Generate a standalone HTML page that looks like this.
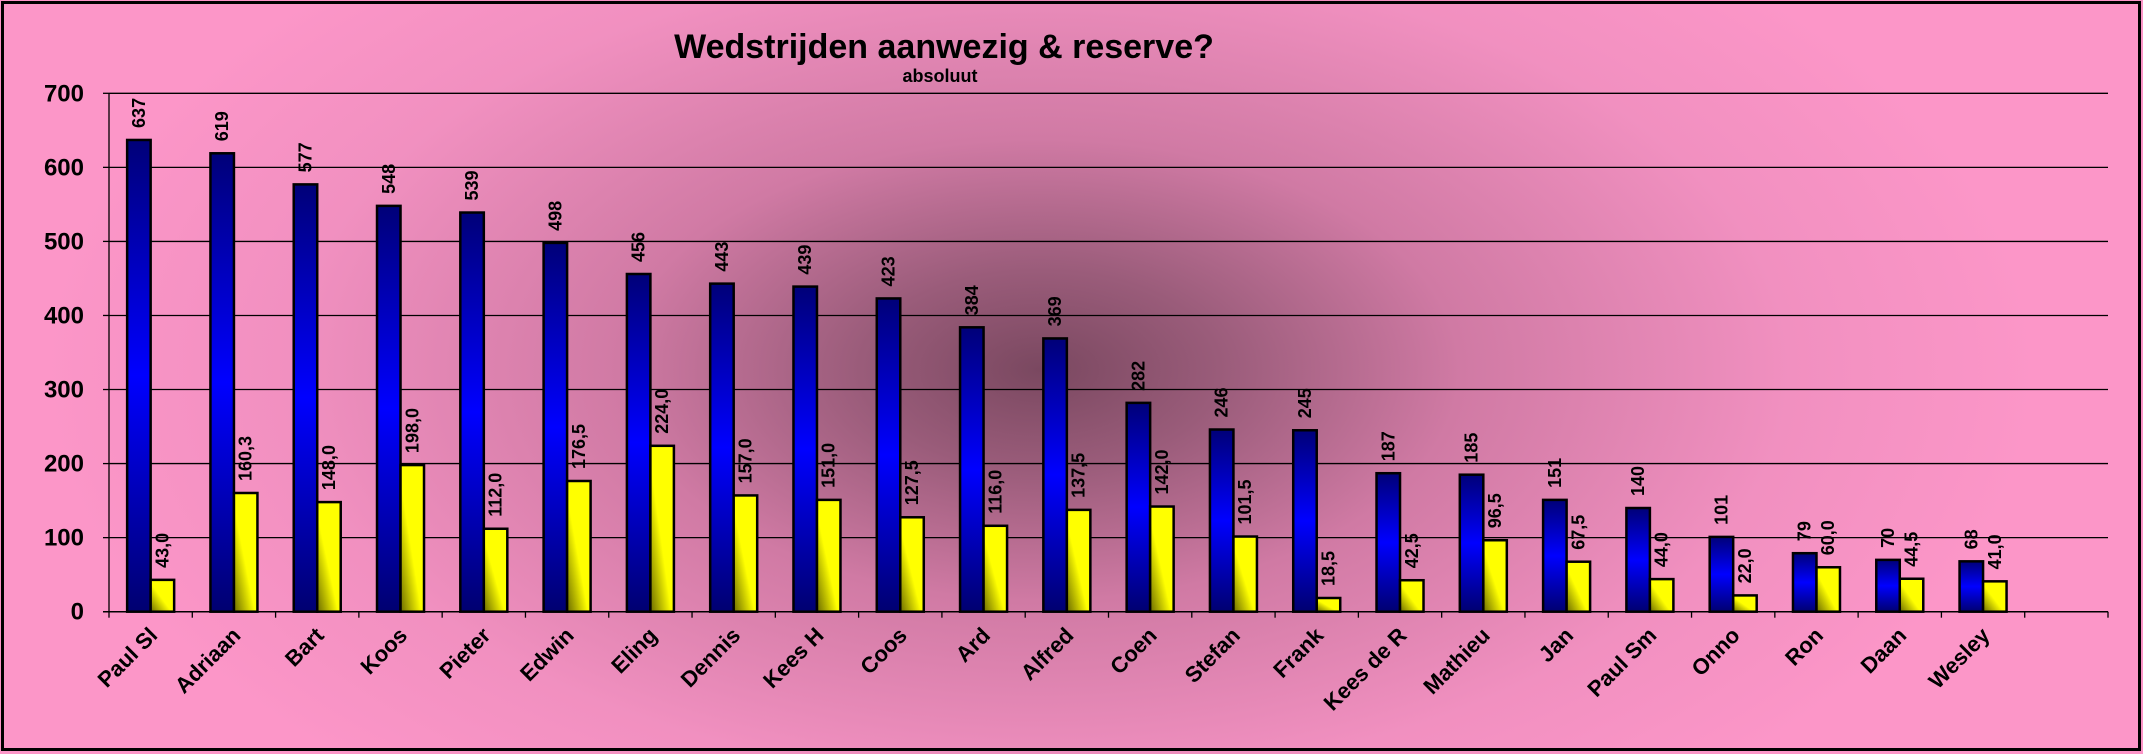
<!DOCTYPE html>
<html><head><meta charset="utf-8">
<style>
html,body{margin:0;padding:0;width:2143px;height:754px;overflow:hidden;background:#fff}
svg{display:block;font-family:"Liberation Sans",Arial,sans-serif;font-weight:bold}
</style></head>
<body>
<svg id="chart" width="2143" height="754" viewBox="0 0 2143 754" xmlns="http://www.w3.org/2000/svg">
<defs>
<radialGradient id="bgGrad" gradientUnits="userSpaceOnUse" cx="1040" cy="370" r="1000" gradientTransform="translate(1040 370) scale(1 0.55) translate(-1040 -370)">
<stop offset="0" stop-color="#7a4860"/>
<stop offset="0.18" stop-color="#9a5c7a"/>
<stop offset="0.42" stop-color="#d07aa4"/>
<stop offset="0.75" stop-color="#f190c0"/>
<stop offset="1" stop-color="#fc96c8"/>
</radialGradient>
<linearGradient id="blueGrad" x1="0" y1="0" x2="0" y2="1">
<stop offset="0" stop-color="#000078"/>
<stop offset="0.5" stop-color="#0000ff"/>
<stop offset="1" stop-color="#000070"/>
</linearGradient>
<linearGradient id="yelGrad" x1="1" y1="0" x2="0" y2="1">
<stop offset="0" stop-color="#ffff00"/>
<stop offset="0.55" stop-color="#ffff00"/>
<stop offset="1" stop-color="#6b6b00"/>
</linearGradient>
</defs>
<rect x="0" y="0" width="2143" height="754" fill="url(#bgGrad)"/>
<rect x="2.5" y="2.5" width="2137" height="747" fill="none" stroke="#000" stroke-width="3"/>
<text x="944" y="58" text-anchor="middle" font-size="34">Wedstrijden aanwezig &amp; reserve?</text>
<text x="940" y="82" text-anchor="middle" font-size="18">absoluut</text>
<g id="grid"></g>
<g id="bars"></g>
<g id="axes"></g>
</svg>
<script>
const categories = ["Paul Sl","Adriaan","Bart","Koos","Pieter","Edwin","Eling","Dennis","Kees H","Coos","Ard","Alfred","Coen","Stefan","Frank","Kees de R","Mathieu","Jan","Paul Sm","Onno","Ron","Daan","Wesley"];
const aanwezig = [637,619,577,548,539,498,456,443,439,423,384,369,282,246,245,187,185,151,140,101,79,70,68];
const reserve = [43.0,160.3,148.0,198.0,112.0,176.5,224.0,157.0,151.0,127.5,116.0,137.5,142.0,101.5,18.5,42.5,96.5,67.5,44.0,22.0,60.0,44.5,41.0];
const yTicks = [0,100,200,300,400,500,600,700];

const NS = "http://www.w3.org/2000/svg";
const X0 = 109, X1 = 2108, Y0 = 611.7, YTOP = 93.3, YMAX = 700, SLOTS = 24;
const slotW = (X1 - X0) / SLOTS;
const barW = 23.5;
function yScale(v){ return Y0 - (v / YMAX) * (Y0 - YTOP); }
function xCenter(i){ return X0 + slotW * (i + 0.5); }
function mk(tag, attrs, parent){ const e = document.createElementNS(NS, tag); for (const k in attrs) e.setAttribute(k, attrs[k]); parent.appendChild(e); return e; }
const grid = document.getElementById('grid'), bars = document.getElementById('bars'), axes = document.getElementById('axes');

yTicks.forEach(t => {
  const y = yScale(t);
  if (t > 0) {
    const l = mk('line', {x1: X0, x2: X1, y1: y, y2: y, stroke: '#000', 'stroke-width': 1.3}, grid);
    
    
  }
  const tk = mk('line', {x1: X0 - 6, x2: X0, y1: y, y2: y, stroke: '#000', 'stroke-width': 1.3}, axes);
  
  
  const tx = mk('text', {x: 84, y: y + 8, 'text-anchor': 'end', 'font-size': 24}, axes);
  tx.textContent = t;
  
  
});
const ya = mk('line', {x1: X0, x2: X0, y1: YTOP, y2: Y0, stroke: '#000', 'stroke-width': 1.3}, axes);


const xa = mk('line', {x1: X0 - 6, x2: X1, y1: Y0, y2: Y0, stroke: '#000', 'stroke-width': 1.5}, axes);


for (let i = 0; i <= SLOTS; i++) {
  const x = X0 + i * slotW;
  const t = mk('line', {x1: x, x2: x, y1: Y0, y2: Y0 + 6, stroke: '#000', 'stroke-width': 1.3}, axes);
  
  
}

categories.forEach((c, i) => {
  const cx = xCenter(i);
  const yb = yScale(aanwezig[i]);
  const b = mk('rect', {x: cx - barW, y: yb, width: barW, height: Y0 - yb, fill: 'url(#blueGrad)', stroke: '#000', 'stroke-width': 2.5}, bars);
  
  
  const yy = yScale(reserve[i]);
  const r = mk('rect', {x: cx, y: yy, width: barW, height: Y0 - yy, fill: 'url(#yelGrad)', stroke: '#000', 'stroke-width': 2.5}, bars);
  
  

  const lb = mk('text', {x: 0, y: 0, 'font-size': 18, transform: 'translate(' + (cx - barW/2 + 6) + ',' + (yb - 12) + ') rotate(-90)'}, bars);
  lb.textContent = aanwezig[i];
  
  
  const lr = mk('text', {x: 0, y: 0, 'font-size': 18, transform: 'translate(' + (cx + barW/2 + 6) + ',' + (yy - 12) + ') rotate(-90)'}, bars);
  lr.textContent = reserve[i].toFixed(1).replace('.', ',');
  
  

  const cl = mk('text', {x: 0, y: 0, 'font-size': 22, 'text-anchor': 'end', transform: 'translate(' + (cx + 8) + ',' + (Y0 + 25) + ') rotate(-45)'}, axes);
  cl.textContent = c;
  
  
});
</script>
</body></html>
